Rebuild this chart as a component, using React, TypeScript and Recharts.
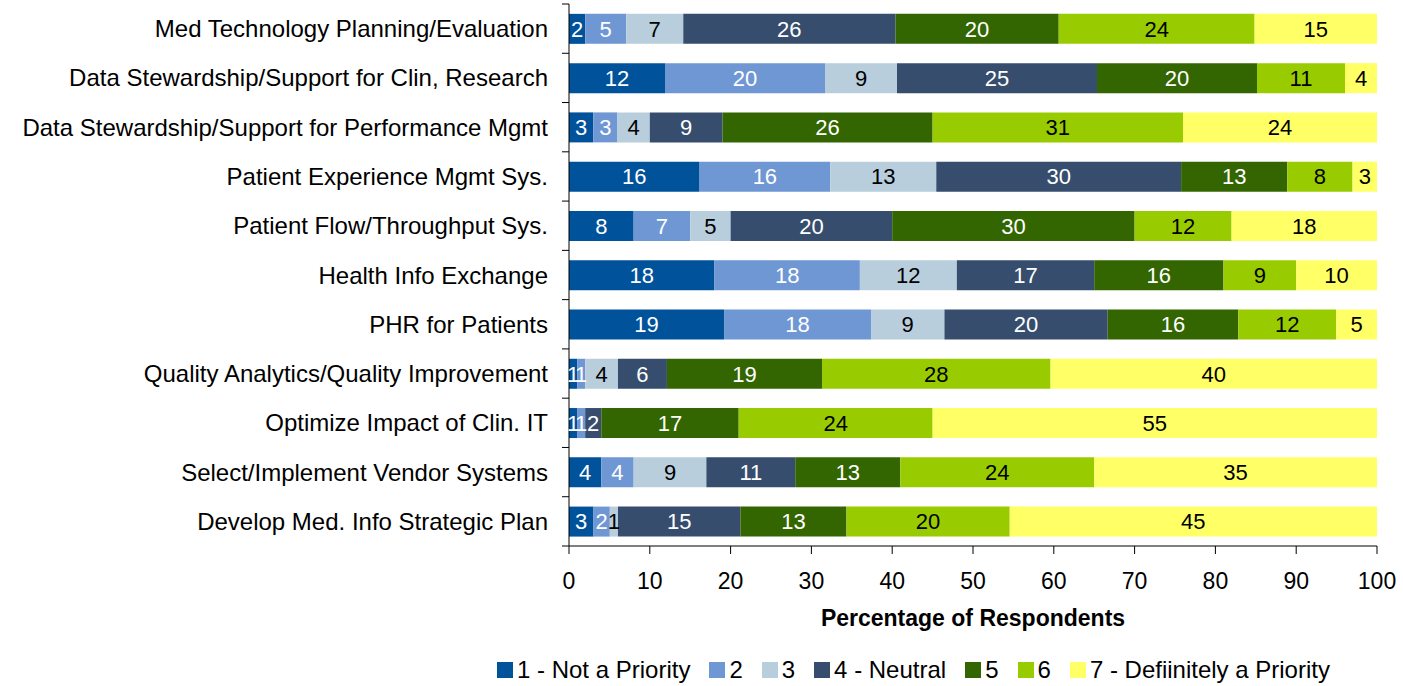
import { BarChart, Bar, XAxis, YAxis, Legend, LabelList } from "recharts";

const categories = [
  "Med Technology Planning/Evaluation",
  "Data Stewardship/Support for Clin, Research",
  "Data Stewardship/Support for Performance Mgmt",
  "Patient Experience Mgmt Sys.",
  "Patient Flow/Throughput Sys.",
  "Health Info Exchange",
  "PHR for Patients",
  "Quality Analytics/Quality Improvement",
  "Optimize Impact of Clin. IT",
  "Select/Implement Vendor Systems",
  "Develop Med. Info Strategic Plan",
];

const seriesNames = [
  "1 - Not a Priority",
  "2",
  "3",
  "4 - Neutral",
  "5",
  "6",
  "7 - Defiinitely a Priority",
];

const p1 = [2, 12, 3, 16, 8, 18, 19, 1, 1, 4, 3];
const p2 = [5, 20, 3, 16, 7, 18, 18, 1, 1, 4, 2];
const p3 = [7, 9, 4, 13, 5, 12, 9, 4, 0, 9, 1];
const p4 = [26, 25, 9, 30, 20, 17, 20, 6, 2, 11, 15];
const p5 = [20, 20, 26, 13, 30, 16, 16, 19, 17, 13, 13];
const p6 = [24, 11, 31, 8, 12, 9, 12, 28, 24, 24, 20];
const p7 = [15, 4, 24, 3, 18, 10, 5, 40, 55, 35, 45];

const xTicks = [0, 0.1, 0.2, 0.3, 0.4, 0.5, 0.6, 0.7, 0.8, 0.9, 1];

const colors = ["#00529B", "#6F97D3", "#B8CEDC", "#374D6E", "#336600", "#99CC00", "#FFFF66"];
const labelColors = ["#fff", "#fff", "#000", "#fff", "#fff", "#000", "#000"];

const allSeries = [p1, p2, p3, p4, p5, p6, p7];
const keys = ["s1", "s2", "s3", "s4", "s5", "s6", "s7"];

const data = categories.map((name, i) => {
  const row: Record<string, string | number> = { name };
  keys.forEach((k, j) => {
    row[k] = allSeries[j][i];
  });
  return row;
});

const WIDTH = 1403;
const HEIGHT = 686;
const TOP = 4;
const AXIS_Y = 546;
const Y_AXIS_W = 569;
const FONT = "'Liberation Sans', Arial, sans-serif";

const band = (AXIS_Y - TOP) / categories.length;

function CategoryTick(props: any) {
  const { x, y, payload, index } = props;
  const ax = x + 21;
  return (
    <g>
      <text
        x={x}
        y={y}
        textAnchor="end"
        dominantBaseline="central"
        fontSize={24}
        fontFamily={FONT}
        fill="#000"
      >
        {payload.value}
      </text>
      <line x1={ax - 7} x2={ax} y1={y - band / 2} y2={y - band / 2} stroke="#000" />
      {index === categories.length - 1 && (
        <line x1={ax - 7} x2={ax} y1={y + band / 2} y2={y + band / 2} stroke="#000" />
      )}
    </g>
  );
}

function LegendContent() {
  return (
    <div
      style={{
        display: "flex",
        alignItems: "center",
        fontFamily: FONT,
        fontSize: 24,
        paddingTop: 6,
      }}
    >
      {seriesNames.map((n, i) => (
        <div key={n} style={{ display: "flex", alignItems: "center", marginRight: 19 }}>
          <span
            style={{
              display: "inline-block",
              width: 16,
              height: 16,
              background: colors[i],
              marginRight: 4,
            }}
          />
          <span style={{ color: "#000" }}>{n}</span>
        </div>
      ))}
    </div>
  );
}

export default function App() {
  return (
    <div style={{ position: "absolute", left: 0, top: 0, background: "#fff" }}>
      <BarChart
        width={WIDTH}
        height={HEIGHT}
        data={data}
        layout="vertical"
        stackOffset="expand"
        barCategoryGap="20%"
        margin={{ top: TOP, right: 26, left: 0, bottom: 0 }}
      >
        <XAxis
          type="number"
          domain={[0, 1]}
          ticks={xTicks}
          tickFormatter={(v: number) => String(Math.round(v * 100))}
          stroke="#000"
          tickSize={8}
          tickMargin={19}
          height={104}
          tick={{ fill: "#000", fontSize: 23, fontFamily: FONT }}
          label={{
            value: "Percentage of Respondents",
            position: "insideBottom",
            offset: 24,
            fill: "#000",
            fontSize: 23,
            fontWeight: "bold",
            fontFamily: FONT,
          }}
        />
        <YAxis
          type="category"
          dataKey="name"
          width={Y_AXIS_W}
          stroke="#000"
          tickLine={false}
          tickSize={0}
          tickMargin={21}
          tick={<CategoryTick />}
          interval={0}
        />
        <Legend
          verticalAlign="bottom"
          height={36}
          content={<LegendContent />}
          wrapperStyle={{ left: 497, width: 900 }}
        />
        {keys.map((k, j) => (
          <Bar
            key={k}
            dataKey={k}
            name={seriesNames[j]}
            stackId="a"
            fill={colors[j]}
            isAnimationActive={false}
          >
            <LabelList
              dataKey={k}
              position="center"
              fill={labelColors[j]}
              fontSize={22}
              fontFamily={FONT}
              formatter={(v: any) => (v === 0 ? "" : v)}
            />
          </Bar>
        ))}
      </BarChart>
    </div>
  );
}
